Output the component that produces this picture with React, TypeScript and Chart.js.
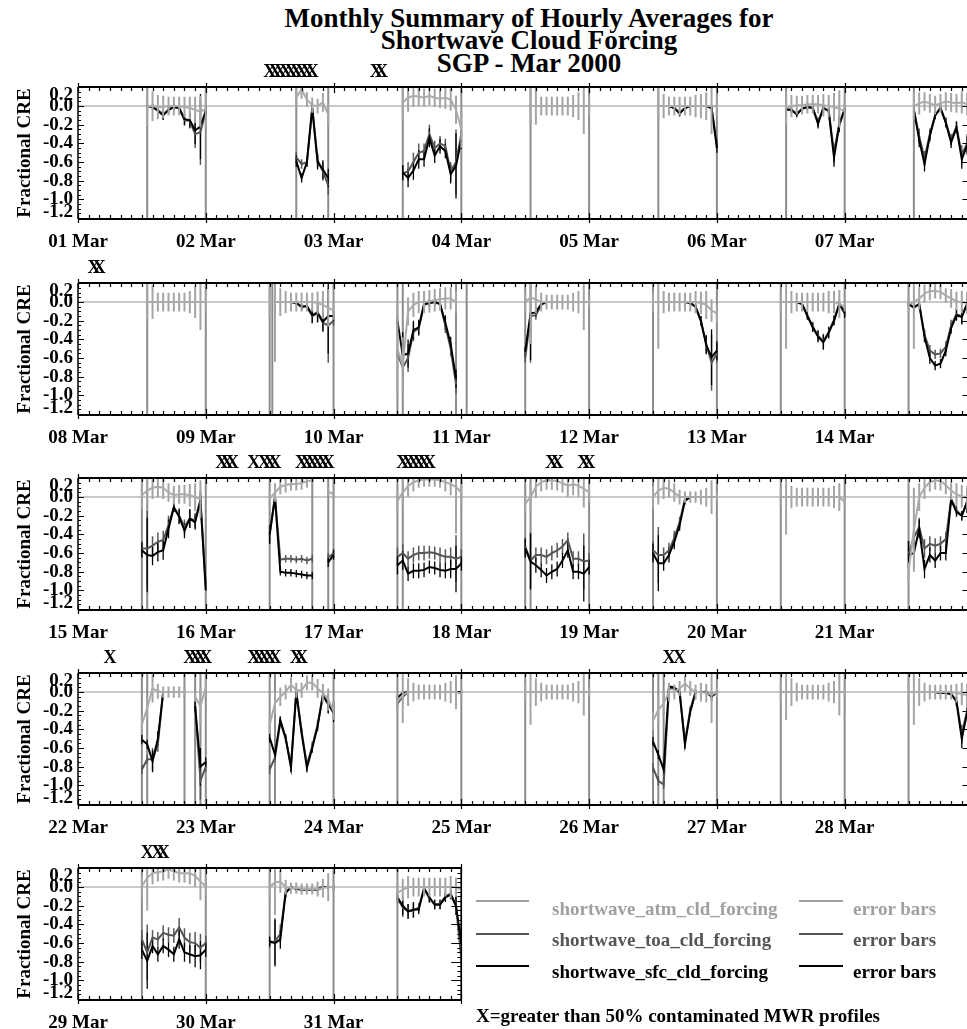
import React, { useEffect, useRef } from 'react';
import { Chart, registerables } from 'chart.js';

Chart.register(...registerables);

const _ = null;
const SERIF = "'Liberation Serif', 'Times New Roman', Times, serif";

// ---------------- data ----------------
const DAY_LABELS = [
  '01 Mar', '02 Mar', '03 Mar', '04 Mar', '05 Mar', '06 Mar', '07 Mar', '08 Mar', '09 Mar', '10 Mar',
  '11 Mar', '12 Mar', '13 Mar', '14 Mar', '15 Mar', '16 Mar', '17 Mar', '18 Mar', '19 Mar', '20 Mar',
  '21 Mar', '22 Mar', '23 Mar', '24 Mar', '25 Mar', '26 Mar', '27 Mar', '28 Mar', '29 Mar', '30 Mar',
  '31 Mar', '01 Apr',
];
// hours (UTC) of each day at which the hourly averages are given
const DAY_HOURS = [12, 13, 14, 15, 16, 17, 18, 19, 20, 21, 22, 23, 24];
const Y_TICK_VALUES = [0.2, 0.0, -0.2, -0.4, -0.6, -0.8, -1.0, -1.2];
const Y_MIN = -1.21;
const Y_MAX = 0.205;

const NA = [_, _, _, _, _, _, _, _, _, _, _, _, _];

const atmCF = [
  [_, 0, 0, -0.01, -0.01, 0, 0, 0, -0.01, -0.02, -0.04, -0.06, -0.03],
  [_, _, _, _, _, 0.09, 0.18, 0.07, 0.01, 0, 0.04, -0.09, _],
  [_, 0.04, 0.09, 0.11, 0.1, 0.09, 0.11, 0.09, 0.08, 0.09, 0.07, -0.04, -0.25],
  [_, 0, 0, 0, 0, 0, 0, 0, 0, 0, 0, 0, 0],
  [_, 0, 0, 0, 0, 0, 0, 0, 0, 0, 0, 0, 0],
  [_, -0.02, 0, 0.01, 0.01, 0.02, 0.02, 0.02, 0.01, 0, -0.01, -0.03, -0.05],
  [_, 0, 0.03, 0.05, 0.03, 0.01, 0.03, 0.05, 0.04, 0.03, 0.04, 0.02, 0.02],
  [_, 0, 0, 0, 0, 0, 0, 0, 0, 0, 0, 0, 0],
  [0, 0, 0, 0, 0, 0, 0, 0, 0, -0.01, -0.03, -0.06, -0.09],
  [-0.5, -0.68, -0.1, -0.03, 0, 0, 0.01, 0.02, 0.03, 0.04, 0.04, 0, _],
  [0, 0.05, 0.03, 0, 0, 0, 0, 0, 0, 0, 0, 0, 0],
  [0, 0, 0, 0, 0, 0, 0, 0, 0, -0.01, -0.03, -0.09, -0.12],
  [0, 0, 0, 0, 0, 0, 0, 0, 0, 0, 0, -0.02, -0.05],
  [-0.02, 0, 0.04, 0.09, 0.12, 0.12, 0.11, 0.07, 0.04, 0.01, 0, -0.01, -0.02],
  [0.02, 0.07, 0.1, 0.11, 0.1, 0.05, 0.02, 0.03, 0.03, 0.02, 0, -0.02, _],
  [-0.02, 0.05, 0.11, 0.13, 0.14, 0.14, 0.15, 0.17, 0.18, _, _, 0.06, 0.03],
  [-0.04, 0.05, 0.12, 0.16, 0.18, 0.19, 0.19, 0.19, 0.18, 0.16, 0.14, 0.11, 0.05],
  [-0.07, 0, 0.11, 0.16, 0.18, 0.18, 0.17, 0.15, 0.12, 0.14, 0.12, 0.09, 0.05],
  [0, 0.07, 0.1, 0.09, 0.05, 0, 0, 0, 0, 0, 0, 0, 0],
  [0, 0, 0, 0, 0, 0, 0, 0, 0, 0, 0, 0, -0.05],
  [-0.8, -0.35, 0, 0.1, 0.16, 0.18, 0.17, 0.13, 0.07, 0.03, 0.01, 0, 0],
  [-0.35, -0.17, 0.04, 0.01, 0, 0, 0, 0, 0, _, -0.05, -0.15, 0.05],
  [-0.35, -0.12, -0.05, 0, 0.08, 0.02, 0.02, 0.1, 0.1, 0.04, -0.01, -0.08, -0.2],
  [-0.1, -0.03, 0, 0, 0, 0, 0, 0, 0, 0, 0, 0, -0.02],
  [0, 0, 0, 0, 0, 0, 0, 0, 0, 0, 0, 0, 0],
  [-0.31, -0.19, -0.12, 0, 0, 0.04, 0.09, 0.04, 0, 0, -0.01, -0.03, 0],
  [0, 0, 0, 0, 0, 0, 0, 0, 0, 0, 0, 0, 0],
  [0, 0, 0, 0, 0, 0, 0, 0, 0, -0.01, -0.02, -0.03, -0.04],
  [0.01, 0.1, 0.15, 0.16, 0.17, 0.19, 0.17, 0.15, 0.15, 0.15, 0.12, 0.06, 0.01],
  [0, 0.05, 0.06, 0, -0.01, -0.01, -0.02, -0.02, -0.02, -0.02, -0.01, 0, 0],
  [-0.06, -0.03, 0, 0, 0, 0, 0, 0, 0, 0, 0, 0, -0.03],
];

const toaCF = [
  [_, 0, -0.01, -0.04, -0.09, -0.04, -0.01, -0.02, -0.15, -0.16, -0.3, -0.28, -0.05],
  [_, _, _, _, _, -0.55, -0.62, -0.6, -0.02, -0.58, -0.7, -0.85, _],
  [_, -0.72, -0.7, -0.6, -0.5, -0.48, -0.3, -0.45, -0.4, -0.43, -0.7, -0.6, -0.3],
  NA,
  [_, 0, 0, 0, -0.02, -0.07, -0.02, 0, 0, 0, 0, -0.02, -0.4],
  [_, -0.03, -0.04, -0.08, -0.03, -0.01, -0.02, -0.17, -0.02, -0.05, -0.5, -0.18, -0.03],
  [_, -0.04, -0.32, -0.56, -0.3, -0.1, -0.02, -0.17, -0.36, -0.22, -0.52, -0.4, -0.3],
  NA,
  [0, 0, 0, 0, 0, -0.01, -0.05, -0.05, -0.15, -0.12, -0.22, -0.25, -0.2],
  [-0.55, -0.7, -0.6, -0.32, -0.28, -0.03, -0.01, 0, -0.02, -0.25, -0.5, -0.88, _],
  [-0.6, -0.15, -0.14, -0.03, 0, 0, 0, 0, 0, 0, 0, 0, 0],
  [0, 0, 0, 0, 0, 0, 0, -0.01, -0.05, -0.2, -0.45, -0.65, -0.55],
  [0, 0, 0, 0, -0.02, -0.14, -0.26, -0.36, -0.42, -0.32, -0.19, -0.02, -0.1],
  [-0.02, -0.05, -0.02, -0.35, -0.52, -0.56, -0.55, -0.48, -0.25, -0.13, -0.15, -0.02, -0.02],
  [-0.55, -0.55, -0.52, -0.48, -0.46, -0.3, -0.11, -0.2, -0.32, -0.23, -0.25, -0.02, -0.95],
  [-0.4, 0, -0.67, -0.66, -0.66, -0.67, -0.66, -0.68, -0.66, _, _, -0.65, -0.6],
  [-0.64, -0.6, -0.66, -0.62, -0.6, -0.6, -0.59, -0.6, -0.62, -0.64, -0.64, -0.66, -0.64],
  [-0.53, -0.68, -0.62, -0.62, -0.64, -0.6, -0.57, -0.53, -0.46, -0.66, -0.66, -0.69, -0.68],
  [-0.57, -0.62, -0.62, -0.57, -0.44, -0.27, -0.02, 0, 0, 0, 0, 0, 0],
  NA,
  [-0.62, -0.43, -0.32, -0.55, -0.5, -0.52, -0.5, -0.45, -0.02, -0.14, -0.2, -0.05, -0.02],
  [-0.83, -0.72, -0.72, -0.56, 0, 0, 0, 0, 0, _, -0.15, -0.95, -0.8],
  [-0.83, -0.7, -0.32, -0.5, -0.78, 0, -0.42, -0.78, -0.58, -0.35, -0.03, -0.12, -0.2],
  [-0.12, -0.05, 0, 0, 0, 0, 0, 0, 0, 0, 0, 0, 0],
  NA,
  [-0.81, -0.95, -0.99, 0.04, 0.04, 0, -0.53, -0.19, 0, 0, 0, -0.04, 0],
  NA,
  [0, 0, 0, 0, 0, 0, -0.01, -0.01, -0.02, -0.1, -0.45, -0.2, -0.3],
  [-0.56, -0.7, -0.54, -0.56, -0.49, -0.51, -0.52, -0.43, -0.54, -0.59, -0.6, -0.65, -0.6],
  [-0.6, -0.58, -0.5, -0.06, 0, -0.02, -0.03, -0.03, -0.03, -0.03, 0, 0, 0],
  [-0.12, -0.22, -0.26, -0.25, -0.22, -0.02, -0.12, -0.18, -0.18, -0.1, -0.07, -0.2, -0.77],
];

const sfcCF = [
  [_, 0, -0.01, -0.05, -0.1, -0.04, -0.01, -0.02, -0.14, -0.15, -0.26, -0.22, -0.05],
  [_, _, _, _, _, -0.59, -0.77, -0.6, -0.02, -0.6, -0.68, -0.77, _],
  [_, -0.71, -0.77, -0.69, -0.57, -0.57, -0.34, -0.53, -0.43, -0.48, -0.73, -0.64, -0.36],
  NA,
  [_, 0, 0, 0, -0.02, -0.08, -0.02, 0, 0, 0, 0, -0.02, -0.45],
  [_, -0.04, -0.04, -0.09, -0.03, -0.01, -0.02, -0.19, -0.02, -0.05, -0.55, -0.2, -0.04],
  [_, -0.04, -0.36, -0.62, -0.32, -0.1, -0.02, -0.18, -0.39, -0.23, -0.57, -0.42, -0.35],
  NA,
  [0, 0, 0, 0, 0, -0.01, -0.05, -0.04, -0.14, -0.11, -0.21, -0.15, -0.15],
  [-0.2, -0.57, -0.55, -0.3, -0.27, -0.02, -0.01, 0, -0.02, -0.22, -0.45, -0.82, _],
  [-0.53, -0.12, -0.11, -0.02, 0, 0, 0, 0, 0, 0, 0, 0, 0],
  [0, 0, 0, 0, 0, 0, 0, -0.01, -0.05, -0.2, -0.46, -0.59, -0.52],
  [0, 0, 0, 0, -0.02, -0.15, -0.27, -0.37, -0.43, -0.33, -0.2, -0.02, -0.12],
  [-0.02, -0.06, -0.02, -0.37, -0.6, -0.68, -0.66, -0.52, -0.28, -0.14, -0.16, -0.02, -0.02],
  [-0.57, -0.62, -0.63, -0.59, -0.57, -0.34, -0.11, -0.21, -0.36, -0.23, -0.27, -0.04, -1.0],
  [-0.4, 0, -0.8, -0.81, -0.81, -0.82, -0.83, -0.84, -0.84, _, _, -0.7, -0.62],
  [-0.73, -0.68, -0.82, -0.79, -0.79, -0.78, -0.75, -0.76, -0.78, -0.79, -0.77, -0.77, -0.71],
  [-0.55, -0.69, -0.73, -0.78, -0.84, -0.8, -0.77, -0.68, -0.57, -0.8, -0.8, -0.82, -0.75],
  [-0.6, -0.71, -0.71, -0.62, -0.48, -0.3, -0.04, 0, 0, 0, 0, 0, 0],
  NA,
  [-0.62, -0.6, -0.34, -0.77, -0.62, -0.68, -0.6, -0.6, -0.03, -0.16, -0.2, -0.05, -0.02],
  [-0.51, -0.56, -0.74, -0.5, 0, 0, 0, 0, 0, _, -0.15, -0.8, -0.75],
  [-0.49, -0.67, -0.3, -0.49, -0.81, 0, -0.44, -0.81, -0.6, -0.37, -0.03, -0.13, -0.22],
  [-0.06, -0.01, 0, 0, 0, 0, 0, 0, 0, 0, 0, 0, 0],
  NA,
  [-0.53, -0.67, -0.83, 0.06, 0.05, 0, -0.56, -0.21, 0, 0, 0, -0.05, 0],
  NA,
  [0, 0, 0, 0, 0, 0, -0.01, -0.01, -0.02, -0.1, -0.5, -0.22, -0.3],
  [-0.67, -0.79, -0.63, -0.72, -0.63, -0.67, -0.72, -0.56, -0.7, -0.72, -0.74, -0.73, -0.67],
  [-0.58, -0.6, -0.56, -0.06, 0, -0.02, -0.02, -0.02, -0.02, -0.02, 0, 0, 0],
  [-0.11, -0.2, -0.26, -0.24, -0.24, -0.01, -0.11, -0.19, -0.19, -0.11, -0.08, -0.2, -0.6],
];

// half-length of the error bars
const atmErr = [
  [_, 0.22, 0.16, 0.13, 0.12, 0.1, 0.1, 0.1, 0.11, 0.12, 0.14, 0.17, 0.2],
  [_, _, _, _, _, 0.1, 0.1, 0.08, 0.08, 0.08, 0.1, 0.12, _],
  [_, 0.2, 0.15, 0.12, 0.1, 0.1, 0.1, 0.1, 0.1, 0.12, 0.12, 0.15, 0.2],
  [_, 0.2, 0.2, 0.1, 0.1, 0.1, 0.1, 0.1, 0.1, 0.12, 0.15, 0.3, 0.1],
  [_, 0.2, 0.13, 0.1, 0.1, 0.1, 0.1, 0.1, 0.12, 0.13, 0.15, 0.3, 0.1],
  [_, 0.18, 0.12, 0.1, 0.1, 0.1, 0.1, 0.1, 0.12, 0.12, 0.15, 0.2, 0.1],
  [_, 0.15, 0.12, 0.1, 0.1, 0.1, 0.1, 0.1, 0.1, 0.1, 0.12, 0.12, 0.12],
  [_, 0.2, 0.18, 0.1, 0.1, 0.1, 0.1, 0.1, 0.1, 0.12, 0.17, 0.3, 0.1],
  [0.15, 0.64, 0.15, 0.12, 0.1, 0.1, 0.1, 0.1, 0.1, 0.12, 0.15, 0.2, 0.1],
  [0.5, 0.3, 0.15, 0.13, 0.12, 0.12, 0.12, 0.12, 0.12, 0.12, 0.12, 0.12, _],
  [0.1, 0.5, 0.15, 0.1, 0.08, 0.08, 0.08, 0.08, 0.08, 0.1, 0.12, 0.3, 0.05],
  [0.1, 0.5, 0.12, 0.1, 0.1, 0.1, 0.1, 0.1, 0.12, 0.12, 0.15, 0.12, 0.1],
  [0.1, 0.5, 0.12, 0.1, 0.1, 0.1, 0.1, 0.1, 0.1, 0.12, 0.12, 0.15, 0.05],
  [0.1, 0.5, 0.12, 0.1, 0.1, 0.08, 0.08, 0.08, 0.1, 0.1, 0.12, 0.12, 0.1],
  [0.15, 0.15, 0.12, 0.12, 0.12, 0.1, 0.1, 0.1, 0.1, 0.12, 0.15, 0.2, _],
  [0.1, 0.1, 0.08, 0.08, 0.07, 0.07, 0.07, 0.07, 0.05, _, _, 0.05, 0.05],
  [0.1, 0.15, 0.12, 0.1, 0.08, 0.08, 0.08, 0.08, 0.08, 0.1, 0.12, 0.5, 0.15],
  [0.1, 0.15, 0.12, 0.1, 0.1, 0.1, 0.1, 0.1, 0.12, 0.12, 0.12, 0.2, 0.1],
  [0.12, 0.15, 0.12, 0.1, 0.1, 0.08, 0.06, 0.06, 0.06, 0.08, 0.1, 0.18, 0.05],
  [0.1, 0.4, 0.12, 0.1, 0.1, 0.1, 0.1, 0.1, 0.1, 0.1, 0.12, 0.15, 0.05],
  [0.1, 0.45, 0.15, 0.12, 0.1, 0.1, 0.1, 0.1, 0.1, 0.12, 0.12, 0.12, 0.1],
  [0.1, 0.12, 0.15, 0.08, 0.06, 0.06, 0.06, 0.06, 0.06, _, 0.05, 0.2, 0.1],
  [0.1, 0.12, 0.1, 0.08, 0.08, 0.08, 0.08, 0.08, 0.08, 0.1, 0.1, 0.12, 0.1],
  [0.1, 0.3, 0.15, 0.1, 0.08, 0.08, 0.08, 0.08, 0.08, 0.1, 0.12, 0.18, 0.05],
  [0.1, 0.35, 0.15, 0.1, 0.08, 0.08, 0.08, 0.08, 0.08, 0.1, 0.12, 0.25, 0.05],
  [0.1, 0.15, 0.12, 0.1, 0.08, 0.08, 0.08, 0.08, 0.08, 0.1, 0.1, 0.3, 0.05],
  [0.1, 0.3, 0.15, 0.1, 0.08, 0.08, 0.08, 0.08, 0.08, 0.1, 0.12, 0.25, 0.05],
  [0.1, 0.35, 0.15, 0.1, 0.08, 0.08, 0.08, 0.08, 0.08, 0.1, 0.12, 0.12, 0.1],
  [0.12, 0.35, 0.12, 0.1, 0.1, 0.1, 0.1, 0.1, 0.1, 0.12, 0.12, 0.2, 0.1],
  [0.1, 0.35, 0.12, 0.08, 0.06, 0.06, 0.06, 0.06, 0.06, 0.08, 0.1, 0.15, 0.05],
  [0.1, 0.12, 0.12, 0.1, 0.1, 0.1, 0.1, 0.1, 0.1, 0.1, 0.12, 0.1, 0.25],
];

// error half-length shared by the toa and sfc series
const cldErr = [
  [_, 0.02, 0.03, 0.04, 0.05, 0.04, 0.03, 0.03, 0.06, 0.08, 0.15, 0.35, 0.05],
  [_, _, _, _, _, 0.06, 0.05, 0.05, 0.05, 0.08, 0.1, 0.1, _],
  [_, 0.08, 0.1, 0.1, 0.1, 0.08, 0.1, 0.08, 0.08, 0.08, 0.1, 0.35, 0.1],
  NA,
  [_, 0, 0, 0, 0.02, 0.03, 0.02, 0, 0, 0, 0, 0.02, 0.05],
  [_, 0.02, 0.03, 0.03, 0.03, 0.03, 0.04, 0.05, 0.03, 0.04, 0.1, 0.08, 0.03],
  [_, 0.05, 0.08, 0.08, 0.06, 0.04, 0.04, 0.05, 0.06, 0.06, 0.1, 0.1, 0.1],
  NA,
  [0, 0, 0, 0, 0, 0.02, 0.03, 0.04, 0.08, 0.1, 0.1, 0.4, 0.05],
  [0.05, 0.25, 0.15, 0.1, 0.08, 0.05, 0.04, 0.04, 0.05, 0.08, 0.08, 0.1, _],
  [0.05, 0.5, 0.05, 0.02, 0, 0, 0, 0, 0, 0, 0, 0, 0],
  [0, 0, 0, 0, 0, 0, 0, 0.02, 0.03, 0.05, 0.1, 0.3, 0.1],
  [0, 0, 0, 0, 0.02, 0.04, 0.05, 0.06, 0.08, 0.06, 0.05, 0.03, 0.05],
  [0.02, 0.04, 0.03, 0.06, 0.06, 0.05, 0.05, 0.06, 0.06, 0.06, 0.08, 0.05, 0.05],
  [0.08, 0.4, 0.1, 0.1, 0.1, 0.1, 0.05, 0.08, 0.08, 0.1, 0.08, 0.1, _],
  [0.1, 0.1, 0.04, 0.04, 0.04, 0.04, 0.04, 0.04, 0.04, _, _, 0.05, 0.05],
  [0.1, 0.1, 0.08, 0.08, 0.08, 0.08, 0.07, 0.07, 0.08, 0.08, 0.1, 0.25, 0.08],
  [0.1, 0.3, 0.08, 0.08, 0.08, 0.08, 0.08, 0.08, 0.08, 0.08, 0.08, 0.3, 0.08],
  [0.1, 0.3, 0.08, 0.08, 0.08, 0.06, 0.04, 0, 0, 0, 0, 0, 0],
  NA,
  [0.15, 0.15, 0.1, 0.1, 0.08, 0.08, 0.08, 0.08, 0.05, 0.05, 0.05, 0.12, 0.05],
  [0.05, 0.05, 0.12, 0.08, 0, 0, 0, 0, 0, _, 0.05, 0.2, 0.05],
  [0.05, 0.05, 0.04, 0.04, 0.05, 0.03, 0.04, 0.05, 0.05, 0.05, 0.04, 0.1, 0.1],
  [0.03, 0.02, 0, 0, 0, 0, 0, 0, 0, 0, 0, 0, 0],
  NA,
  [0.05, 0.05, 0.05, 0.02, 0.02, 0.02, 0.05, 0.04, 0.02, 0.02, 0.02, 0.05, 0.02],
  NA,
  [0, 0, 0, 0, 0, 0, 0, 0, 0.02, 0.05, 0.1, 0.05, 0.05],
  [0.1, 0.3, 0.08, 0.08, 0.08, 0.08, 0.08, 0.1, 0.1, 0.1, 0.12, 0.15, 0.08],
  [0.05, 0.25, 0.1, 0.05, 0.02, 0.02, 0.02, 0.02, 0.02, 0.02, 0.02, 0.02, 0.02],
  [0.05, 0.1, 0.08, 0.08, 0.05, 0.05, 0.05, 0.05, 0.05, 0.05, 0.05, 0.1, 0.2],
];

// hours since 01 Mar 00 UTC where missing (fill) values produce full-height lines
const FILL_LINE_HOURS = [
  13, 24, 41, 47, 61, 72, 85, 96, 109, 120, 133, 144, 157,
  181, 192, 204, 204.5, 216, 228, 229, 239, 241, 252, 264, 276, 288, 300, 312, 324,
  348, 349, 360, 372, 380, 383, 384, 396, 397, 408, 420, 421, 432, 444, 456, 468, 480, 492,
  516, 517, 524, 526, 527, 528, 540, 541, 552, 564, 576, 588, 600, 612, 613, 614, 624, 636, 648, 660,
  684, 696, 708, 720, 732, 744,
];

// hours flagged with > 50% contaminated MWR profiles
const FLAG_HOURS = [
  36, 37, 38, 39, 40, 41, 42, 43, 44, 56, 57,
  171, 172,
  363, 364, 365, 369, 371, 372, 373, 378, 379, 380, 381, 382, 383, 397, 398, 399, 400, 401, 402,
  425, 426, 431, 432,
  510, 525, 526, 527, 528, 537, 538, 539, 540, 541, 545, 546, 615, 617,
  685, 687, 688,
];

const LEGEND_NAMES = ['shortwave_atm_cld_forcing', 'shortwave_toa_cld_forcing', 'shortwave_sfc_cld_forcing'];
const LEGEND_COLORS = ['#a0a0a0', '#555555', '#000000'];

// ---------------- layout ----------------
const ROW_FIRST_DAY = [0, 7, 14, 21, 28];
const ROW_N_DAYS = [7, 7, 7, 7, 3];
const ROW_TOPS = [87, 283, 478, 673, 868];
const PX_PER_HOUR = 5.324;
const LEFT = 78;
const PLOT_H = 132;
const TOP_PAD = 30;
const AXIS_H = 45;
const CANVAS_H = TOP_PAD + PLOT_H + AXIS_H;

function seriesPoints(vals: (number | null)[][], d0: number, d1: number) {
  const pts: any[] = [];
  for (let d = d0; d < d1; d++) {
    const row = vals[d];
    for (let i = 0; i < DAY_HOURS.length; i++) {
      pts.push({ x: d * 24 + DAY_HOURS[i], y: row[i] });
    }
    pts.push({ x: d * 24 + 24.5, y: null });
  }
  return pts;
}

function errorPoints(vals: (number | null)[][], errs: (number | null)[][], d0: number, d1: number) {
  const pts: any[] = [];
  for (let d = d0; d < d1; d++) {
    for (let i = 0; i < DAY_HOURS.length; i++) {
      const v = vals[d][i];
      const e = errs[d][i];
      if (v == null || e == null || e <= 0) continue;
      const x = d * 24 + DAY_HOURS[i];
      pts.push({ x, y: v - e }, { x, y: v + e }, { x, y: null });
    }
  }
  return pts;
}

function fillLinePoints(h0: number, h1: number) {
  const pts: any[] = [];
  FILL_LINE_HOURS.filter((h) => h >= h0 && h <= h1).forEach((h) => {
    pts.push({ x: h, y: Y_MIN }, { x: h, y: Y_MAX }, { x: h, y: null });
  });
  return pts;
}

function makeDecor(flags: number[]) {
  return {
    id: 'decor',
    beforeDatasetsDraw(chart: any) {
      const { ctx, chartArea: a } = chart;
      const y0 = chart.scales.y.getPixelForValue(0);
      ctx.save();
      ctx.strokeStyle = '#b8b8b8';
      ctx.lineWidth = 1.5;
      ctx.beginPath();
      ctx.moveTo(a.left, y0);
      ctx.lineTo(a.right, y0);
      ctx.stroke();
      ctx.restore();
    },
    afterDatasetsDraw(chart: any) {
      const { ctx, chartArea: a } = chart;
      const xs = chart.scales.x;
      const ys = chart.scales.y;
      ctx.save();
      ctx.strokeStyle = '#000';
      ctx.lineWidth = 1.2;
      ctx.beginPath();
      for (let h = xs.min; h <= xs.max + 1e-6; h += 2) {
        const px = Math.round(xs.getPixelForValue(h)) + 0.5;
        const major = Math.round(h) % 24 === 0;
        const inL = major ? 6 : 4;
        const outL = major ? 4 : 0;
        ctx.moveTo(px, a.bottom + outL);
        ctx.lineTo(px, a.bottom - inL);
        ctx.moveTo(px, a.top - outL);
        ctx.lineTo(px, a.top + inL);
      }
      for (let i = -24; i <= 4; i++) {
        const py = Math.round(ys.getPixelForValue(i * 0.05)) + 0.5;
        const major = i % 4 === 0;
        ctx.moveTo(a.left, py);
        ctx.lineTo(a.left + (major ? 6 : 3), py);
        ctx.moveTo(a.right, py);
        ctx.lineTo(a.right - (major ? 10 : 4), py);
      }
      ctx.stroke();
      ctx.lineWidth = 2;
      ctx.beginPath();
      ctx.moveTo(a.left, a.top);
      ctx.lineTo(a.right, a.top);
      ctx.moveTo(a.left, a.bottom);
      ctx.lineTo(a.right, a.bottom);
      ctx.stroke();
      ctx.lineWidth = 1.5;
      ctx.beginPath();
      ctx.moveTo(a.left, a.top);
      ctx.lineTo(a.left, a.bottom);
      ctx.moveTo(a.right, a.top);
      ctx.lineTo(a.right, a.bottom);
      ctx.stroke();

      ctx.fillStyle = '#000';
      ctx.font = `bold 19px ${SERIF}`;
      ctx.textAlign = 'right';
      ctx.textBaseline = 'middle';
      Y_TICK_VALUES.forEach((v) => {
        let py = ys.getPixelForValue(v);
        py = Math.min(Math.max(py, a.top + 8), a.bottom - 7);
        const label = Math.abs(v) < 1e-9 ? '0.0' : v.toFixed(1);
        ctx.fillText(label, a.left - 5, py);
      });

      ctx.font = `bold 18px ${SERIF}`;
      ctx.textAlign = 'center';
      flags.forEach((h) => {
        ctx.fillText('X', xs.getPixelForValue(h), a.top - 15);
      });
      ctx.restore();
    },
  };
}

function makeChart(canvas: HTMLCanvasElement, r: number, width: number) {
  const d0 = ROW_FIRST_DAY[r];
  const d1 = d0 + ROW_N_DAYS[r];
  const h0 = d0 * 24;
  const h1 = d1 * 24;
  const right = LEFT + (h1 - h0) * PX_PER_HOUR;
  const flags = FLAG_HOURS.filter((h) => h >= h0 && h <= h1);
  const font = { family: SERIF, size: 19, weight: 'bold' as const };
  const line = (data: any[], color: string, w: number, order: number) => ({
    data,
    borderColor: color,
    backgroundColor: color,
    borderWidth: w,
    pointRadius: 0,
    pointHoverRadius: 0,
    fill: false,
    spanGaps: false,
    tension: 0,
    order,
  });
  return new Chart(canvas, {
    type: 'line',
    data: {
      datasets: [
        line(seriesPoints(atmCF, d0, d1), '#ababab', 2, 0),
        line(errorPoints(atmCF, atmErr, d0, d1), '#a4a4a4', 2, 1),
        line(seriesPoints(sfcCF, d0, d1), '#000000', 2, 2),
        line(seriesPoints(toaCF, d0, d1), '#555555', 2, 3),
        line(errorPoints(sfcCF, cldErr, d0, d1), '#000000', 1.3, 4),
        line(errorPoints(toaCF, cldErr, d0, d1), '#5a5a5a', 1.5, 5),
        line(fillLinePoints(h0, h1), '#8c8c8c', 2, 6),
      ] as any,
    },
    options: {
      animation: false,
      responsive: false,
      devicePixelRatio: 1,
      events: [],
      layout: { padding: { left: 0, top: TOP_PAD, right: width - right, bottom: 0 } },
      plugins: { legend: { display: false }, tooltip: { enabled: false }, title: { display: false } },
      scales: {
        x: {
          type: 'linear',
          min: h0,
          max: h1,
          grid: { display: false, drawTicks: false },
          border: { display: false },
          ticks: {
            stepSize: 24,
            autoSkip: false,
            maxRotation: 0,
            minRotation: 0,
            padding: 12,
            color: '#000',
            font,
            callback: (v: any) => (Math.abs(v - h1) < 1e-6 ? '' : DAY_LABELS[Math.round(v / 24)]),
          },
          afterFit: (s: any) => {
            s.height = AXIS_H;
          },
        },
        y: {
          type: 'linear',
          min: Y_MIN,
          max: Y_MAX,
          grid: { display: false, drawTicks: false },
          border: { display: false },
          ticks: { display: false },
          title: {
            display: true,
            text: 'Fractional CRE',
            color: '#000',
            font,
            padding: { top: 14, bottom: 0 },
          },
          afterFit: (s: any) => {
            s.width = LEFT;
          },
        },
      },
    } as any,
    plugins: [makeDecor(flags)],
  });
}

function Text({ x, baseline, size, color = '#000', children, center = false }: any) {
  const top = baseline - size * 0.84;
  return (
    <div
      style={{
        position: 'absolute',
        left: x,
        top,
        fontSize: size,
        lineHeight: `${size}px`,
        fontFamily: SERIF,
        fontWeight: 'bold',
        color,
        whiteSpace: 'nowrap',
        transform: center ? 'translateX(-50%)' : undefined,
      }}
    >
      {children}
    </div>
  );
}

export default function App() {
  const canvases = useRef<(HTMLCanvasElement | null)[]>([]);
  const widths = ROW_N_DAYS.map((n) => (n === 7 ? 990 : 480));

  useEffect(() => {
    const charts = ROW_N_DAYS.map((_n, r) => makeChart(canvases.current[r] as HTMLCanvasElement, r, widths[r]));
    return () => charts.forEach((c) => c.destroy());
  }, []);

  const legendLineY = [901, 934, 966];
  const legendBase = [915, 946, 978];

  return (
    <div
      style={{
        position: 'absolute',
        left: 0,
        top: 0,
        width: 967,
        height: 1029,
        overflow: 'hidden',
        background: '#fff',
      }}
    >
      <Text x={529} baseline={28} size={27} center>
        Monthly Summary of Hourly Averages for
      </Text>
      <Text x={529} baseline={50} size={27} center>
        Shortwave Cloud Forcing
      </Text>
      <Text x={529} baseline={73} size={27} center>
        SGP - Mar 2000
      </Text>
      {ROW_N_DAYS.map((_n, r) => (
        <canvas
          key={r}
          ref={(el) => {
            canvases.current[r] = el;
          }}
          width={widths[r]}
          height={CANVAS_H}
          style={{ position: 'absolute', left: 0, top: ROW_TOPS[r] - TOP_PAD, width: widths[r], height: CANVAS_H }}
        />
      ))}
      {LEGEND_NAMES.map((name, i) => (
        <React.Fragment key={name}>
          <div
            style={{
              position: 'absolute',
              left: 476,
              top: legendLineY[i] - 1,
              width: 53,
              height: 2,
              background: LEGEND_COLORS[i],
            }}
          />
          <Text x={552} baseline={legendBase[i]} size={19} color={LEGEND_COLORS[i]}>
            {name}
          </Text>
          <div
            style={{
              position: 'absolute',
              left: 799,
              top: legendLineY[i] - 1,
              width: 44,
              height: 2,
              background: LEGEND_COLORS[i],
            }}
          />
          <Text x={853} baseline={legendBase[i]} size={19} color={LEGEND_COLORS[i]}>
            error bars
          </Text>
        </React.Fragment>
      ))}
      <Text x={476} baseline={1022} size={19}>
        X=greater than 50% contaminated MWR profiles
      </Text>
    </div>
  );
}
